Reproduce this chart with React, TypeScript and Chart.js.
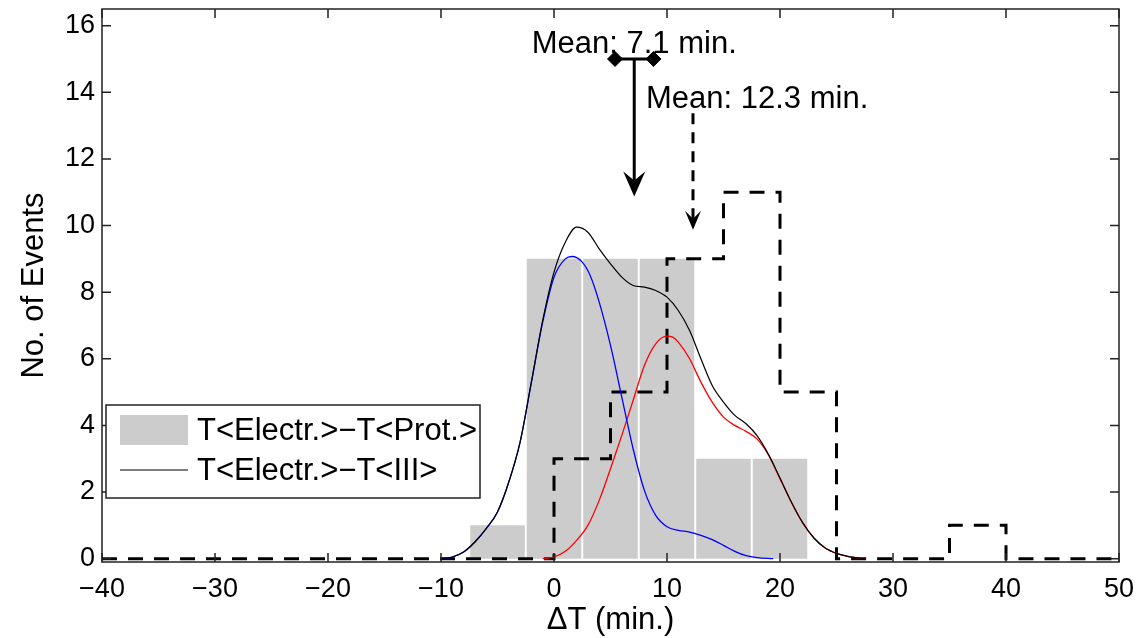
import React, { useEffect, useRef } from "react";
import { Chart, registerables } from "chart.js";

Chart.register(...registerables);

// ---- data ----
const binCenters = [-5, 0, 5, 10, 15, 20];
const binCounts = [1, 9, 9, 9, 3, 3];

const histEdges = [-40, 0, 5, 10, 15, 20, 25, 35, 40, 50];
const histCounts = [0, 3, 5, 9, 11, 5, 0, 1, 0, 0];

const blueX = [-10, -9, -8, -7, -6, -5, -4, -3, -2, -1, 0, 1, 1.6, 2.5, 3.2, 4, 5, 6, 7, 8, 9, 10, 11, 12, 13, 14, 15, 16, 17, 18, 19.4];
const blueY = [0, 0.05, 0.2, 0.5, 0.9, 1.4, 2.3, 3.5, 5.3, 7.1, 8.45, 9.0, 9.07, 8.9, 8.5, 7.7, 6.4, 4.85, 3.3, 2.05, 1.3, 0.96, 0.85, 0.8, 0.7, 0.57, 0.4, 0.22, 0.09, 0.03, 0];

const redX = [-1, 0, 1, 2, 3, 4, 5, 6, 7, 8, 9, 10, 10.5, 11, 12, 13, 14, 15, 16, 17, 18, 19, 20, 21, 22, 23, 24, 25, 26, 27.5];
const redY = [0, 0.05, 0.22, 0.55, 1.0, 1.75, 2.7, 3.7, 4.75, 5.8, 6.45, 6.68, 6.65, 6.5, 6.0, 5.3, 4.7, 4.25, 4.0, 3.82, 3.58, 3.1, 2.4, 1.7, 1.08, 0.62, 0.32, 0.16, 0.07, 0];

const blackX = [-10, -9, -8, -7, -6, -5, -4, -3, -2, -1, 0, 1, 2, 3, 4, 5, 6, 7, 8, 9, 10, 11, 12, 13, 14, 15, 16, 17, 18, 19, 20, 21, 22, 23, 24, 25, 26, 27.5];
const blackY = [0, 0.05, 0.2, 0.5, 0.9, 1.4, 2.3, 3.5, 5.3, 7.15, 8.6, 9.5, 9.95, 9.8, 9.3, 8.85, 8.45, 8.2, 8.15, 8.05, 7.85, 7.45, 6.85, 6.0, 5.2, 4.7, 4.3, 4.05, 3.68, 3.12, 2.42, 1.7, 1.08, 0.62, 0.32, 0.16, 0.07, 0];

const meanProt = 7.1;
const errProt = [5.4, 8.8];
const arrowProt = [15, 10.87];
const meanIII = 12.3;
const arrowIII = [13.37, 9.87];
const meanLabels = ["Mean: 7.1 min.", "Mean: 12.3 min."];

const xTicks = [-40, -30, -20, -10, 0, 10, 20, 30, 40, 50];
const yTicks = [0, 2, 4, 6, 8, 10, 12, 14, 16];

const legendLabels = ["T<Electr.>\u2212T<Prot.>", "T<Electr.>\u2212T<III>"];
const xTitle = "\u0394T (min.)";
const yTitle = "No. of Events";

const FONT = "'Liberation Sans', Arial, sans-serif";

function drawArrow(ctx: CanvasRenderingContext2D, px: number, yTop: number, yTip: number, dashed: boolean, headLen: number, headHalf: number, notch: number) {
  ctx.save();
  ctx.strokeStyle = "#000";
  ctx.fillStyle = "#000";
  ctx.lineWidth = 3;
  ctx.setLineDash(dashed ? [11, 8] : []);
  ctx.beginPath();
  ctx.moveTo(px, yTop);
  ctx.lineTo(px, yTip - notch);
  ctx.stroke();
  ctx.setLineDash([]);
  ctx.beginPath();
  ctx.moveTo(px, yTip);
  ctx.lineTo(px - headHalf, yTip - headLen);
  ctx.lineTo(px, yTip - notch);
  ctx.lineTo(px + headHalf, yTip - headLen);
  ctx.closePath();
  ctx.fill();
  ctx.restore();
}

const overlayPlugin = {
  id: "overlay",
  afterDatasetsDraw(chart: any) {
    const { ctx, chartArea: a, scales } = chart;
    const x = scales.x;
    const y = scales.y;
    ctx.save();

    // arrows
    drawArrow(ctx, x.getPixelForValue(meanProt), y.getPixelForValue(arrowProt[0]), y.getPixelForValue(arrowProt[1]), false, 25, 11, 16);
    drawArrow(ctx, x.getPixelForValue(meanIII), y.getPixelForValue(arrowIII[0]), y.getPixelForValue(arrowIII[1]), true, 19, 8, 11);

    // mean labels
    ctx.fillStyle = "#000";
    ctx.font = `31px ${FONT}`;
    ctx.textBaseline = "alphabetic";
    ctx.textAlign = "center";
    ctx.fillText(meanLabels[0], x.getPixelForValue(meanProt), y.getPixelForValue(arrowProt[0]) - 6);
    ctx.textAlign = "left";
    ctx.fillText(meanLabels[1], x.getPixelForValue(meanIII) - 47, y.getPixelForValue(arrowIII[0]) - 5);

    // frame
    ctx.strokeStyle = "#222";
    ctx.lineWidth = 1.5;
    ctx.strokeRect(a.left, a.top, a.right - a.left, a.bottom - a.top);
    const tl = 9;
    ctx.beginPath();
    xTicks.forEach((v) => {
      const p = x.getPixelForValue(v);
      ctx.moveTo(p, a.bottom);
      ctx.lineTo(p, a.bottom - tl);
      ctx.moveTo(p, a.top);
      ctx.lineTo(p, a.top + tl);
    });
    yTicks.forEach((v) => {
      const p = y.getPixelForValue(v);
      ctx.moveTo(a.left, p);
      ctx.lineTo(a.left + tl, p);
      ctx.moveTo(a.right, p);
      ctx.lineTo(a.right - tl, p);
    });
    ctx.stroke();

    // legend
    const lx = a.left + 4;
    const ly = a.bottom - 157;
    const lw = 374;
    const lh = 93;
    ctx.fillStyle = "#fff";
    ctx.fillRect(lx, ly, lw, lh);
    ctx.strokeStyle = "#222";
    ctx.lineWidth = 1.5;
    ctx.strokeRect(lx, ly, lw, lh);
    ctx.fillStyle = "#cccccc";
    ctx.fillRect(lx + 14, ly + 10, 68, 30);
    ctx.strokeStyle = "#000";
    ctx.lineWidth = 1.2;
    ctx.beginPath();
    ctx.moveTo(lx + 14, ly + 65);
    ctx.lineTo(lx + 82, ly + 65);
    ctx.stroke();
    ctx.fillStyle = "#000";
    ctx.font = `31px ${FONT}`;
    ctx.textAlign = "left";
    ctx.textBaseline = "middle";
    ctx.fillText(legendLabels[0], lx + 91, ly + 26);
    ctx.fillText(legendLabels[1], lx + 91, ly + 66);

    ctx.restore();
  },
};

export default function App() {
  const ref = useRef<HTMLCanvasElement | null>(null);

  useEffect(() => {
    if (!ref.current) return;
    const toXY = (xs: number[], ys: number[]) => xs.map((v, i) => ({ x: v, y: ys[i] }));
    const chart = new Chart(ref.current, {
      type: "line",
      data: {
        datasets: [
          {
            type: "line",
            label: "errorbar",
            data: [{ x: errProt[0], y: arrowProt[0] }, { x: errProt[1], y: arrowProt[0] }],
            borderColor: "#000",
            borderWidth: 3,
            pointStyle: "rectRot",
            pointRadius: 7.5,
            pointBackgroundColor: "#000",
            pointBorderColor: "#000",
            pointBorderWidth: 1,
            order: 0,
            clip: false,
          } as any,
          {
            type: "line",
            label: "blue",
            data: toXY(blueX, blueY),
            borderColor: "#0000ff",
            borderWidth: 1.3,
            pointRadius: 0,
            cubicInterpolationMode: "monotone",
            order: 2,
          },
          {
            type: "line",
            label: "red",
            data: toXY(redX, redY),
            borderColor: "#ff0000",
            borderWidth: 1.3,
            pointRadius: 0,
            cubicInterpolationMode: "monotone",
            order: 2,
          },
          {
            type: "line",
            label: legendLabels[1],
            data: toXY(blackX, blackY),
            borderColor: "#000",
            borderWidth: 1.2,
            pointRadius: 0,
            cubicInterpolationMode: "monotone",
            order: 1,
          },
          {
            type: "line",
            label: "dashed",
            data: toXY(histEdges, histCounts),
            borderColor: "#000",
            borderWidth: 3,
            borderDash: [15, 11],
            stepped: "before",
            pointRadius: 0,
            order: 5,
          },
          {
            type: "bar",
            label: legendLabels[0],
            data: toXY(binCenters, binCounts),
            backgroundColor: "#cccccc",
            borderWidth: 0,
            barPercentage: 0.965,
            categoryPercentage: 1,
            order: 10,
          } as any,
        ],
      },
      options: {
        animation: false,
        responsive: false,
        events: [],
        layout: { padding: { top: 9, right: 20, left: 0, bottom: 0 }, autoPadding: false },
        plugins: { legend: { display: false }, tooltip: { enabled: false } },
        scales: {
          x: {
            type: "linear",
            min: -40,
            max: 50,
            offset: false,
            grid: { display: false, drawTicks: false },
            border: { display: false },
            afterBuildTicks: (s: any) => {
              s.ticks = xTicks.map((v) => ({ value: v }));
            },
            afterFit: (s: any) => {
              s.height = 76;
              s.paddingLeft = 0;
              s.paddingRight = 0;
              s.paddingTop = 0;
              s.paddingBottom = 0;
            },
            ticks: {
              color: "#000",
              padding: 11,
              maxRotation: 0,
              autoSkip: false,
              font: { family: FONT, size: 27 },
              callback: (v: any) => (v < 0 ? "\u2212" + Math.abs(v) : String(v)),
            },
            title: {
              display: true,
              text: xTitle,
              color: "#000",
              font: { family: FONT, size: 31, lineHeight: 1 },
              padding: { top: 0, bottom: 2 },
            },
          },
          y: {
            type: "linear",
            min: -0.1,
            max: 16.5,
            grid: { display: false, drawTicks: false },
            border: { display: false },
            afterBuildTicks: (s: any) => {
              s.ticks = yTicks.map((v) => ({ value: v }));
            },
            afterFit: (s: any) => {
              s.width = 102;
              s.paddingLeft = 0;
              s.paddingRight = 0;
              s.paddingTop = 0;
              s.paddingBottom = 0;
            },
            ticks: {
              color: "#000",
              padding: 7,
              autoSkip: false,
              font: { family: FONT, size: 27 },
            },
            title: {
              display: true,
              text: yTitle,
              color: "#000",
              font: { family: FONT, size: 31, lineHeight: 1 },
              padding: { top: 19, bottom: 0 },
            },
          },
        },
      },
      plugins: [overlayPlugin],
    } as any);
    return () => chart.destroy();
  }, []);

  return (
    <div style={{ position: "fixed", left: 0, top: 0, width: 1139, height: 638, background: "#fff" }}>
      <canvas ref={ref} width={1139} height={638} style={{ display: "block" }} />
    </div>
  );
}
